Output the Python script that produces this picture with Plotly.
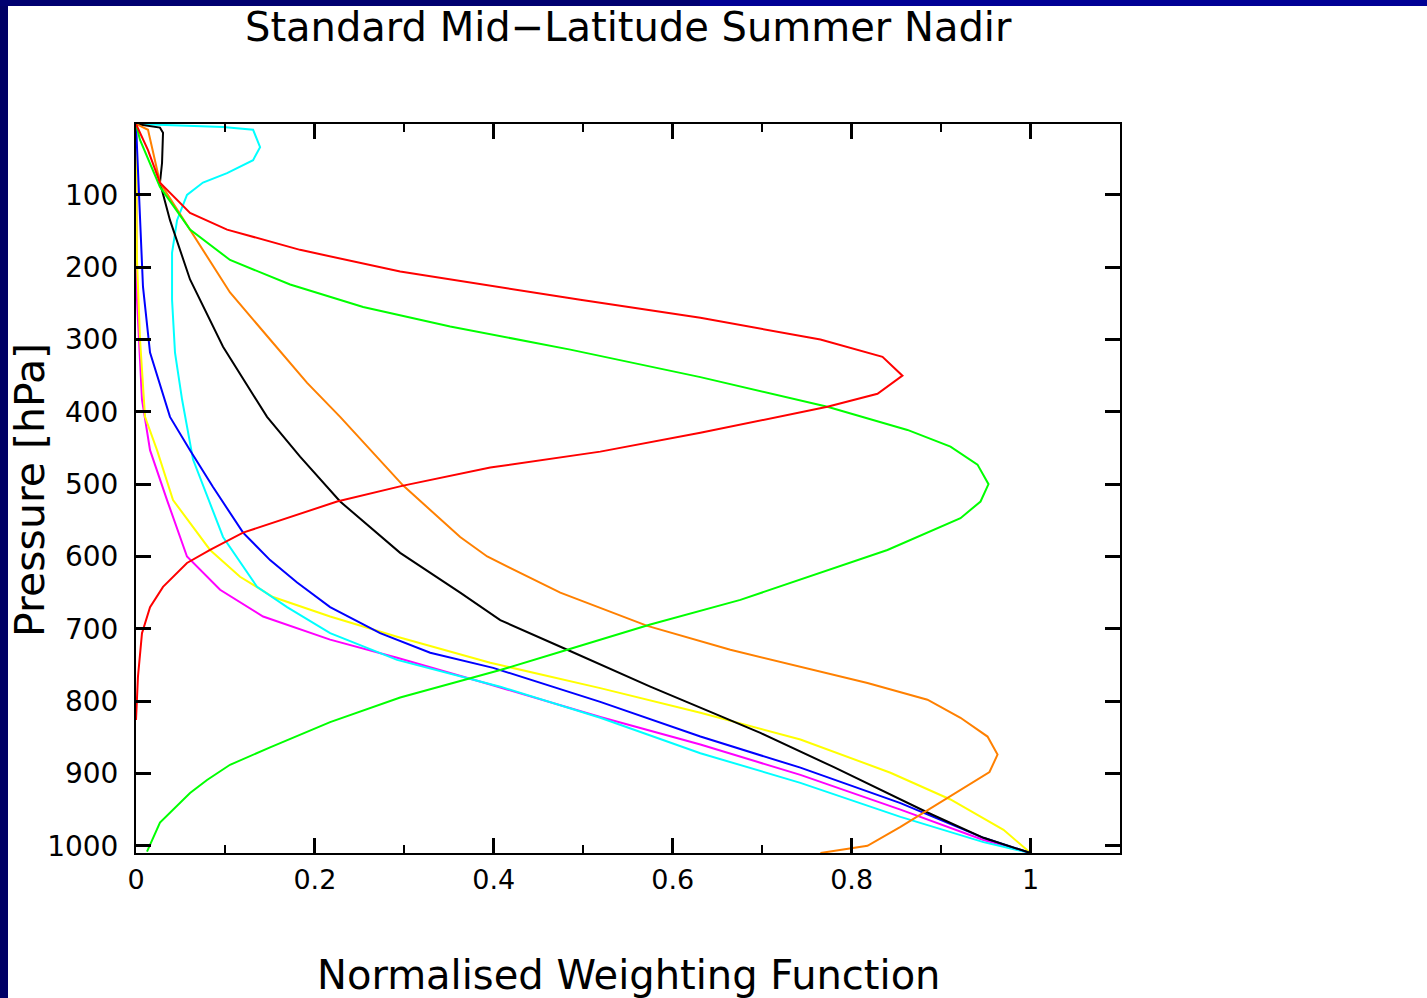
import plotly.graph_objects as go

# ---- data (normalised weighting function vs pressure) ----
red_x = [0, 0.0134, 0.0268, 0.0604, 0.1018, 0.1834, 0.2953, 0.3512, 0.4966, 0.6309, 0.7651, 0.8345, 0.8568,
         0.8289, 0.7729, 0.6309, 0.5190, 0.3960, 0.2987, 0.2248, 0.1197, 0.0828, 0.0570, 0.0302, 0.0157,
         0.0067, 0.0022, 0]
red_p = [2, 38, 83, 125, 148, 176, 206, 217, 245, 270, 300, 324, 350,
         375, 393, 429, 455, 477, 502, 524, 567, 591, 609, 642, 670,
         706, 766, 826]

green_x = [0, 0.0045, 0.0268, 0.0604, 0.1051, 0.1723, 0.2539, 0.3512, 0.4855, 0.6309, 0.7729, 0.8624, 0.9105,
           0.9407, 0.9530, 0.9441, 0.9217, 0.8400, 0.6756, 0.5749, 0.4821, 0.4072, 0.2953, 0.2170, 0.1499,
           0.1051, 0.0794, 0.0604, 0.0268, 0.0179, 0.0123]
green_p = [2, 24, 89, 148, 190, 224, 255, 282, 314, 352, 393, 425, 448,
           473, 500, 524, 547, 591, 660, 694, 729, 757, 795, 829, 864,
           888, 909, 927, 968, 992, 1008]

orange_x = [0, 0.0134, 0.0268, 0.0604, 0.1051, 0.1499, 0.1913, 0.2282, 0.2987, 0.3624, 0.3926, 0.4743, 0.5716,
            0.6644, 0.7427, 0.8177, 0.8848, 0.9217, 0.9519, 0.9631, 0.9541, 0.9217, 0.8915, 0.8546, 0.8177,
            0.7651]
orange_p = [2, 10, 83, 148, 235, 300, 360, 407, 502, 573, 600, 650, 696,
            729, 753, 775, 798, 823, 849, 874, 898, 923, 946, 974, 1000,
            1010]

black_x = [0, 0.0268, 0.0302, 0.0291, 0.0268, 0.0380, 0.0604, 0.0973, 0.1465, 0.1834, 0.2282, 0.2953, 0.3624,
           0.4072, 0.4821, 0.5749, 0.6980, 0.7796, 0.8848, 0.9474, 1.0]
black_p = [2, 7, 14, 56, 83, 135, 217, 310, 407, 462, 524, 595, 650,
           688, 729, 780, 844, 891, 954, 989, 1010]

cyan_x = [0, 0.0973, 0.1309, 0.1387, 0.1309, 0.1018, 0.0749, 0.0570, 0.0459, 0.0403, 0.0403, 0.0436, 0.0515,
          0.0638, 0.0973, 0.1353, 0.1689, 0.2170, 0.2919, 0.4072, 0.5190, 0.6309, 0.7427, 0.8546, 0.9474, 1.0]
cyan_p = [2, 6, 10, 34, 52, 70, 83, 100, 135, 180, 245, 318, 383,
          466, 573, 642, 670, 706, 743, 780, 823, 872, 913, 960, 995, 1010]

blue_x = [0, 0.0045, 0.0078, 0.0157, 0.0380, 0.0604, 0.0861, 0.1197, 0.1499, 0.1801, 0.2170, 0.2729, 0.3289,
          0.3993, 0.5190, 0.6309, 0.7427, 0.8546, 0.9474, 1.0]
blue_p = [2, 135, 227, 318, 407, 453, 504, 567, 605, 636, 670, 706, 733,
          754, 801, 849, 892, 941, 989, 1010]

yellow_x = [0, 0.0011, 0.0045, 0.0101, 0.0235, 0.0414, 0.0828, 0.1163, 0.1532, 0.2170, 0.2919, 0.3960, 0.5190,
            0.6309, 0.7427, 0.8434, 0.9105, 0.9698, 1.0]
yellow_p = [2, 190, 300, 407, 453, 522, 591, 628, 656, 683, 711, 747, 782,
            816, 853, 899, 936, 978, 1010]

magenta_x = [0, 0.0011, 0.0067, 0.0157, 0.0347, 0.0570, 0.0940, 0.1421, 0.2170, 0.2919, 0.3960, 0.5190, 0.6309,
             0.7427, 0.8546, 0.9474, 1.0]
magenta_p = [2, 245, 383, 453, 522, 600, 646, 683, 715, 740, 777, 822, 860,
             902, 950, 992, 1010]

series = [
    ("magenta", magenta_x, magenta_p, "#FF00FF"),
    ("yellow", yellow_x, yellow_p, "#FFFF00"),
    ("cyan", cyan_x, cyan_p, "#00FFFF"),
    ("blue", blue_x, blue_p, "#0000FF"),
    ("black", black_x, black_p, "#000000"),
    ("orange", orange_x, orange_p, "#FF8000"),
    ("green", green_x, green_p, "#00FF00"),
    ("red", red_x, red_p, "#FF0000"),
]

x_tickvals = [0, 0.2, 0.4, 0.6, 0.8, 1.0]
x_ticktext = ["0", "0.2", "0.4", "0.6", "0.8", "1"]
y_tickvals = [100, 200, 300, 400, 500, 600, 700, 800, 900, 1000]

FONT = "DejaVu Sans"

fig = go.Figure()
for name, xs, ps, col in series:
    fig.add_trace(go.Scatter(x=xs, y=ps, mode="lines", name=name,
                             line=dict(color=col, width=2), hoverinfo="skip"))

W, H = 1427, 998
ml, mr, mt, mb = 136, 1427 - 1120, 124, 998 - 853
pw, ph = W - ml - mr, H - mt - mb


def px2x(px):
    return (px - ml) / pw


def py2y(py):
    return 1 - (py - mt) / ph


fig.update_layout(
    width=W, height=H,
    margin=dict(l=ml, r=mr, t=mt, b=mb, pad=0),
    paper_bgcolor="white", plot_bgcolor="white",
    showlegend=False,
    font=dict(family=FONT, color="black"),
    xaxis=dict(range=[0, 1.1], tickvals=x_tickvals, ticktext=x_ticktext,
               ticks="inside", ticklen=15, tickwidth=3, tickcolor="black",
               minor=dict(dtick=0.1, tick0=0, ticks="inside", ticklen=8, tickwidth=2, tickcolor="black"),
               showline=True, linecolor="black", linewidth=2, mirror="allticks",
               showgrid=False, zeroline=False, ticklabelstandoff=2,
               tickfont=dict(size=27, family=FONT, color="black")),
    yaxis=dict(range=[1010, 2], tickvals=y_tickvals,
               ticks="inside", ticklen=15, tickwidth=3, tickcolor="black",
               showline=True, linecolor="black", linewidth=2, mirror="allticks",
               showgrid=False, zeroline=False, ticklabelstandoff=10,
               tickfont=dict(size=28, family=FONT, color="black")),
    annotations=[
        dict(text="Standard Mid\u2212Latitude Summer Nadir", xref="paper", yref="paper",
             x=px2x(628), y=py2y(27), xanchor="center", yanchor="middle", showarrow=False,
             font=dict(size=40, family=FONT, color="black")),
        dict(text="Normalised Weighting Function", xref="paper", yref="paper",
             x=px2x(628), y=py2y(975), xanchor="center", yanchor="middle", showarrow=False,
             font=dict(size=40, family=FONT, color="black")),
        dict(text="Pressure [hPa]", xref="paper", yref="paper", textangle=-90,
             x=px2x(30), y=py2y(490), xanchor="center", yanchor="middle", showarrow=False,
             font=dict(size=41, family=FONT, color="black")),
    ],
    shapes=[
        dict(type="rect", xref="paper", yref="paper", x0=px2x(0), x1=px2x(8), y0=py2y(998), y1=py2y(0),
             fillcolor="#000066", line=dict(width=0), layer="above"),
        dict(type="rect", xref="paper", yref="paper", x0=px2x(0), x1=px2x(700), y0=py2y(6), y1=py2y(0),
             fillcolor="#000070", line=dict(width=0), layer="above"),
        dict(type="rect", xref="paper", yref="paper", x0=px2x(700), x1=px2x(1427), y0=py2y(6), y1=py2y(0),
             fillcolor="#000095", line=dict(width=0), layer="above"),
    ],
)

fig.write_html("out.html")
